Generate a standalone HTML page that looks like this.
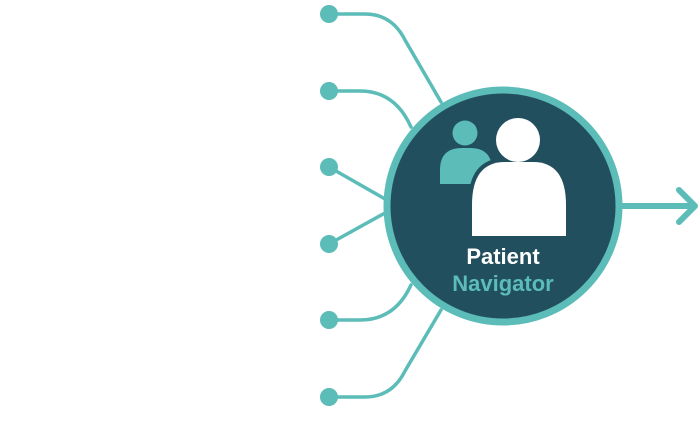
<!DOCTYPE html>
<html><head><style>html,body{margin:0;padding:0;background:#fff;width:700px;height:448px;overflow:hidden}</style></head>
<body>
<svg width="700" height="448" viewBox="0 0 700 448" xmlns="http://www.w3.org/2000/svg">
<g fill="none" stroke="#5bbcb8" stroke-width="3.5" stroke-linecap="round">
<path d="M329 14 H365 Q392 14 405 40 L441 102"/>
<path d="M329 91 H360 Q395 91 411 127"/>
<path d="M329 167 L385 199"/>
<path d="M329 244 L385 213"/>
<path d="M329 320 H360 Q395 320 411 285"/>
<path d="M329 397 H365 Q392 397 405 371 L441 310"/>
<path d="M620 206 H694" stroke-width="6"/>
<path d="M679 190 L695 206 L679 222" stroke-width="6" stroke-linejoin="round"/>
</g>
<g fill="#5bbcb8">
<circle cx="329" cy="14" r="9"/><circle cx="329" cy="91" r="9"/><circle cx="329" cy="167" r="9"/>
<circle cx="329" cy="244" r="9"/><circle cx="329" cy="320" r="9"/><circle cx="329" cy="397" r="9"/>
</g>
<circle cx="503" cy="206" r="116" fill="#224f5e" stroke="#5bbcb8" stroke-width="7"/>
<circle cx="465" cy="133" r="12.5" fill="#5bbcb8"/>
<path d="M440 184 V170 Q440 148 462 148 H470 Q492 148 492 170 V184 Z" fill="#5bbcb8"/>
<path d="M468 240 V205 Q468 158 505 158 H533 Q570 158 570 205 V240 Z" fill="#224f5e"/>
<circle cx="518" cy="140" r="25" fill="#224f5e"/>
<circle cx="518" cy="140" r="22" fill="#fff"/>
<path d="M472 236 V205 Q472 162 505 162 H533 Q566 162 566 205 V236 Z" fill="#fff"/>
<text x="503" y="264" text-anchor="middle" font-family="Liberation Sans, sans-serif" font-weight="bold" font-size="22" fill="#fff">Patient</text>
<text x="503" y="291" text-anchor="middle" font-family="Liberation Sans, sans-serif" font-weight="bold" font-size="22" fill="#5bbcb8">Navigator</text>
</svg>
</body></html>
